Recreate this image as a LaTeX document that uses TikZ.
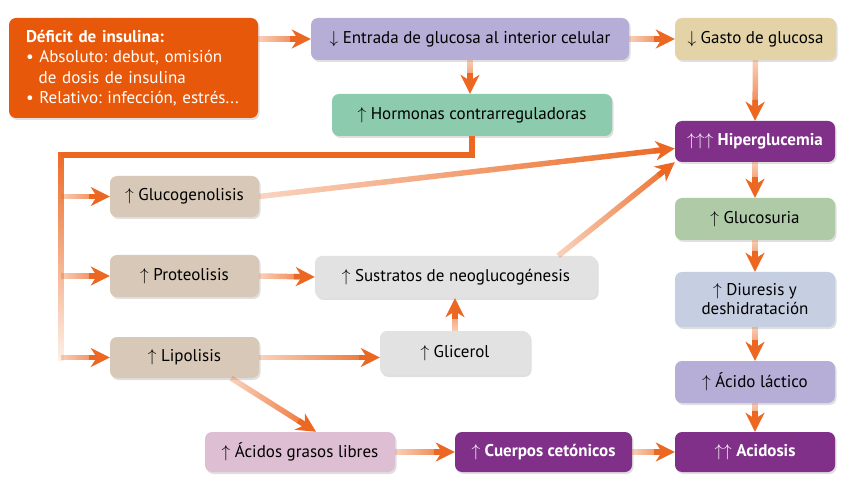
\documentclass[tikz,border=0pt]{standalone}
\usepackage{fontspec}
\setmainfont{PT Sans}
\frenchspacing
\usetikzlibrary{arrows.meta,calc,fadings,shadows}

\definecolor{flowc}{RGB}{236,104,34}
\definecolor{defc}{RGB}{232,88,10}
\definecolor{entc}{RGB}{182,174,214}
\definecolor{gastoc}{RGB}{227,211,166}
\definecolor{hormc}{RGB}{140,203,174}
\definecolor{purp}{RGB}{128,48,136}
\definecolor{glusc}{RGB}{174,202,166}
\definecolor{diurc}{RGB}{198,206,226}
\definecolor{brownc}{RGB}{216,200,184}
\definecolor{grayc}{RGB}{226,226,226}
\definecolor{pinkc}{RGB}{221,190,210}

\tikzfading[name=flowfade, left color=transparent!72, right color=transparent!0]
\tikzfading[name=bracketfade, top color=transparent!0, bottom color=transparent!92]

% gradient arrow: optional fading angle, from, to
\newcommand\flow[3][0]{%
  \draw[flowline, path fading=flowfade, fading angle=#1, shorten >=8pt] #2 -- #3;
  \draw[flowline, -{Stealth[length=19pt,width=19pt,inset=6pt]}] ($#3!21pt!#2$) -- #3;
}

\begin{document}
\begin{tikzpicture}[x=1pt, y=-1pt,
    box/.style={rounded corners=7pt, minimum height=42pt, inner sep=3pt,
      align=center, font=\fontsize{17}{19}\selectfont,
      drop shadow={shadow xshift=1.5pt, shadow yshift=-2pt, opacity=0.25}},
    flowline/.style={draw=flowc, line width=5.5pt},
    bracket/.style={draw=flowc, line width=6pt}]
  \useasboundingbox (0,0) rectangle (852,481);

  \node[box, fill=defc, text=white, minimum height=100pt, text width=215pt,
    inner xsep=17pt, align=left, font=\fontsize{17}{20.3}\selectfont] (def) at (133.5,68)
    {\textbf{Déficit de insulina:}\\
     \textbullet\ Absoluto: debut, omisión\\
     \hspace*{0.75em}de dosis de insulina\\
     \textbullet\ Relativo: infección, estrés...};
  \node[box, fill=entc, minimum width=318pt] (ent) at (470,39) {$\downarrow$ Entrada de glucosa al interior celular};
  \node[box, fill=gastoc, minimum width=161pt] (gasto) at (755.5,39) {$\downarrow$ Gasto de glucosa};
  \node[box, fill=hormc, minimum width=280pt] (horm) at (472,115) {$\uparrow$ Hormonas contrarreguladoras};
  \node[box, fill=purp, text=white, minimum width=160pt, minimum height=41pt] (hiper) at (755,141.5) {$\uparrow\uparrow\uparrow$ \textbf{Hiperglucemia}};
  \node[box, fill=brownc, minimum width=149pt, minimum height=41pt] (gluco) at (184.5,196.5) {$\uparrow$ Glucogenolisis};
  \node[box, fill=glusc, minimum width=160pt] (glucos) at (755,219) {$\uparrow$ Glucosuria};
  \node[box, fill=brownc, minimum width=149pt] (prot) at (184.5,276) {$\uparrow$ Proteolisis};
  \node[box, fill=grayc, minimum width=282pt] (sust) at (456,277) {$\uparrow$ Sustratos de neoglucogénesis};
  \node[box, fill=diurc, minimum width=160pt, minimum height=55pt] (diur) at (755,299.5) {$\uparrow$ Diuresis y\\deshidratación};
  \node[box, fill=grayc, minimum width=150pt, minimum height=44pt] (glic) at (455,353) {$\uparrow$ Glicerol};
  \node[box, fill=brownc, minimum width=149pt, minimum height=41pt] (lip) at (184.5,357.5) {$\uparrow$ Lipolisis};
  \node[box, fill=entc, minimum width=160pt] (lact) at (755,382) {$\uparrow$ Ácido láctico};
  \node[box, fill=pinkc, minimum width=190pt, minimum height=40pt] (acid) at (300,452) {$\uparrow$ Ácidos grasos libres};
  \node[box, fill=purp, text=white, minimum width=177pt, minimum height=40pt] (cuer) at (543.5,452) {$\uparrow$ \textbf{Cuerpos cetónicos}};
  \node[box, fill=purp, text=white, minimum width=160pt, minimum height=40pt] (acidos) at (755,452) {$\uparrow\uparrow$ \textbf{Acidosis}};

  \coordinate (corner) at (61,155);
  \coordinate (foot) at (61,361);

  % top row
  \flow{(def.east |- ent.west)}{(ent.west)}
  \flow{(ent.east)}{(gasto.west)}
  \flow[-90]{(ent.south)}{(ent.south |- horm.north)}
  \flow[-90]{(gasto.south)}{(hiper.north)}

  % bracket from the hormones
  \draw[bracket] (horm.south) |- (corner);
  \draw[bracket, path fading=bracketfade] ([yshift=3pt]corner) -- (foot);
  \flow{(corner |- gluco.west)}{(gluco.west)}
  \flow{(corner |- prot.west)}{(prot.west)}
  \flow{(corner |- lip.west)}{(lip.west)}

  % middle
  \flow{(gluco.east)}{(hiper.185)}
  \flow{([xshift=-39pt]sust.north east)}{(hiper.south west)}
  \flow{(prot.east)}{(sust.west)}
  \flow{(lip.east)}{(lip.east -| glic.west)}
  \flow[90]{(glic.north)}{(glic.north |- sust.south)}
  \flow{([xshift=-28pt]lip.south east)}{([xshift=16pt]acid.north)}

  % bottom and right column
  \flow{(acid.east)}{(cuer.west)}
  \flow{(cuer.east)}{(acidos.west)}
  \flow[-90]{(hiper.south)}{(glucos.north)}
  \flow[-90]{(glucos.south)}{(diur.north)}
  \flow[-90]{(diur.south)}{(lact.north)}
  \flow[-90]{(lact.south)}{(acidos.north)}
\end{tikzpicture}
\end{document}
